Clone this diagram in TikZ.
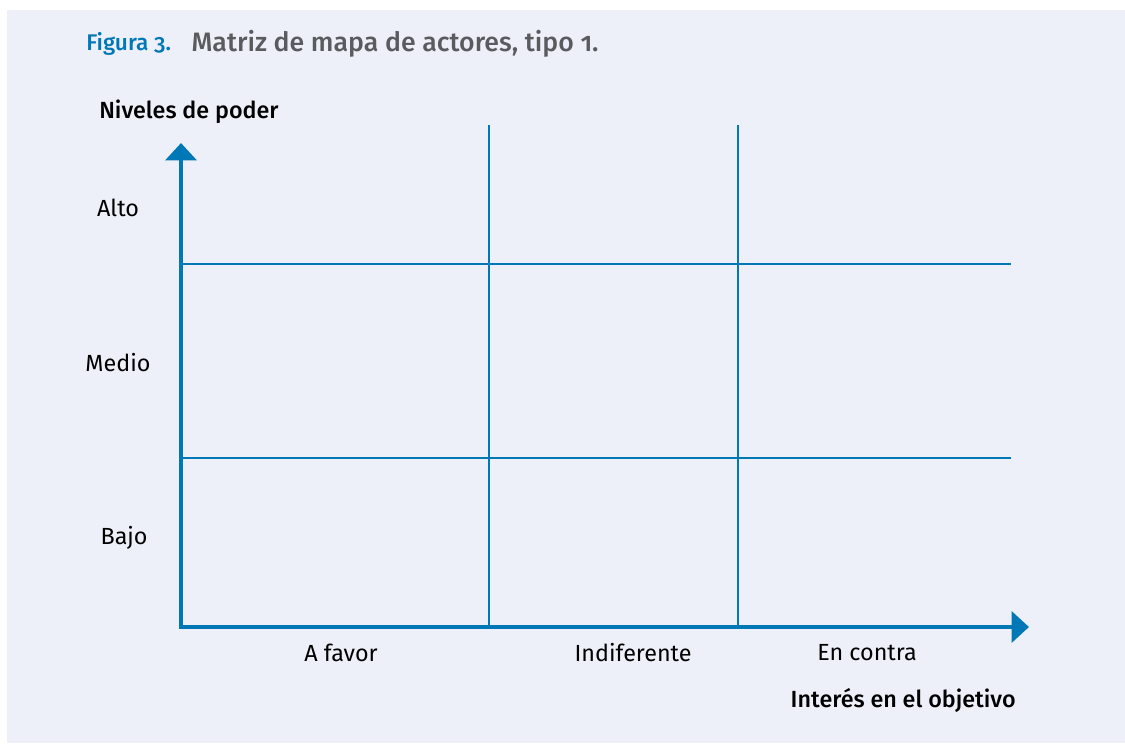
\documentclass[tikz,border=0pt]{standalone}
\usepackage{fontspec}
\setmainfont{Fira Sans}
\newfontfamily\medfont{Fira Sans Medium}[Numbers=OldStyle]
\usetikzlibrary{arrows.meta,positioning}
\definecolor{panel}{HTML}{EDF0F8}
\definecolor{axisblue}{HTML}{0078B7}
\definecolor{titlegray}{HTML}{5A5B5E}

\begin{document}
\begin{tikzpicture}
  [x=0.75pt, y=-0.75pt,
   grid line/.style={axisblue, line width=1.6pt},
   axis line/.style={axisblue, line width=3.4pt, -{Triangle[length=13pt, width=23pt]}},
   tick label/.style={font=\fontsize{17.5}{20}\selectfont, text=black, inner sep=0pt},
   axis title/.style={font=\medfont\fontsize{17.5}{20}\selectfont, text=black, inner sep=0pt}]
  \useasboundingbox (0, 0) rectangle (1125, 743);
  \fill[panel] (7, 10) rectangle (1125, 743);
  % title
  \node[anchor=west, inner sep=0pt, text=axisblue, font=\medfont\fontsize{17}{20}\selectfont] (fig) at (86, 44) {Figura 3.};
  \node[right=15pt of fig, inner sep=0pt, text=titlegray, font=\medfont\fontsize{20}{23}\selectfont] (caption) {Matriz de mapa de actores, tipo 1.};
  % axes
  \coordinate (O) at (181, 629);
  \coordinate (ytip) at (181, 143);
  \coordinate (xstart) at (179, 627);
  \coordinate (xtip) at (1029, 627);
  % grid
  \foreach \x/\name in {489/a, 738/b}
    \draw[grid line] (\x, 125) coordinate (top\name) -- (\x, 627) coordinate (bot\name);
  \foreach \y/\name in {264/a, 458/b}
    \draw[grid line] (181, \y) coordinate (left\name) -- (1011, \y) coordinate (right\name);
  \draw[axis line] (O) -- (ytip);
  \draw[axis line] (xstart) -- (xtip);
  % labels
  \node[axis title, anchor=west] (power) at (99, 112) {Niveles de poder};
  \node[tick label] (alto) at (118, 208) {Alto};
  \node[tick label] (medio) at (118, 363) {Medio};
  \node[tick label] (bajo) at (124, 538) {Bajo};
  \node[tick label] (favor) at (341, 653) {A favor};
  \node[tick label] (indif) at (633, 653) {Indiferente};
  \node[tick label] (contra) at (867, 653) {En contra};
  \node[axis title, anchor=east] (interest) at (1016, 700) {Interés en el objetivo};
\end{tikzpicture}
\end{document}
